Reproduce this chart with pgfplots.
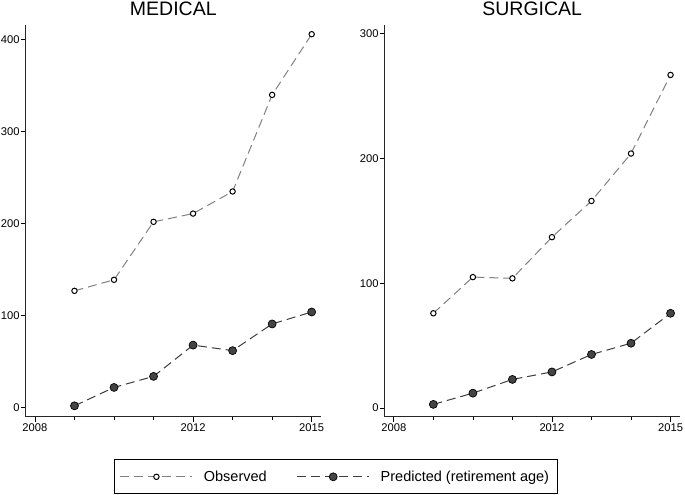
\documentclass[border=0pt]{standalone}
\usepackage{pgfplots}
\pgfplotsset{compat=1.18}
\usepackage{fontspec}
\setmainfont{Liberation Sans}
\definecolor{obs}{RGB}{128,128,128}
\definecolor{pred}{RGB}{60,60,60}
\definecolor{predfill}{RGB}{68,68,68}
\pgfplotsset{
  panel/.style={
    scale only axis, width=295pt, height=392pt,
    axis x line*=bottom, axis y line*=left,
    axis line style={-, line width=1pt, black!85},
    xmin=2007.77, xmax=2015.23,
    xtick={2008,2012,2015},
    minor xtick={2009,2010,2011,2013,2014},
    xticklabels={2008,2012,2015},
    tick align=outside,
    major tick length=5pt, minor tick length=3pt,
    tick style={line width=0.7pt, black},
    every minor tick/.style={line width=0.7pt, black},
    ticklabel style={font=\fontsize{11.2}{13}\selectfont},
    /pgf/number format/assume math mode=true,
    /pgf/number format/1000 sep={},
    yticklabel style={inner sep=1pt},
    xticklabel style={inner sep=2pt},
    title style={at={(0.5,1)}, anchor=south, yshift=2pt, inner sep=1.5pt, font=\fontsize{19.5}{22}\selectfont},
    clip=false,
  },
  obsstyle/.style={color=obs, line width=1pt, dash pattern=on 9pt off 5pt,
    mark=*, mark size=2.7pt, mark options={solid, fill=white, draw=black, line width=1pt}},
  predstyle/.style={color=pred, line width=1pt, dash pattern=on 9pt off 5pt,
    mark=*, mark size=4pt, mark options={solid, fill=predfill, draw=black, line width=0.7pt}},
}
\begin{document}
\begin{tikzpicture}
\begin{axis}[panel, title={MEDICAL},
  ymin=-10, ymax=416, ytick={0,100,200,300,400},
  legend columns=2,
  legend style={at={(1.05,-0.153)}, anchor=center, draw=black, line width=0.8pt,
    font=\fontsize{14.5}{17}\selectfont, inner xsep=6pt, inner ysep=9pt,
    /tikz/every odd column/.append style={column sep=9pt},
    /tikz/every even column/.append style={column sep=28pt}},
  legend image code/.code={
    \draw[#1, mark repeat=2, mark phase=2] plot coordinates {(0pt,0pt) (36pt,0pt) (72pt,0pt)};
  },
]
\addplot[obsstyle] coordinates {(2009,127) (2010,139) (2011,202) (2012,211) (2013,235) (2014,340) (2015,406)};
\addlegendentry{Observed}
\addplot[predstyle] coordinates {(2009,2) (2010,22) (2011,34) (2012,68) (2013,62) (2014,91) (2015,104)};
\addlegendentry{Predicted (retirement age)\hspace{12pt}}
\end{axis}
\begin{axis}[panel, at={(359pt,0pt)}, title={SURGICAL},
  ymin=-7, ymax=307, ytick={0,100,200,300},
]
\addplot[obsstyle] coordinates {(2009,76) (2010,105) (2011,104) (2012,137) (2013,166) (2014,204) (2015,267)};
\addplot[predstyle] coordinates {(2009,3) (2010,12) (2011,23) (2012,29) (2013,43) (2014,52) (2015,76)};
\end{axis}
\end{tikzpicture}
\end{document}
